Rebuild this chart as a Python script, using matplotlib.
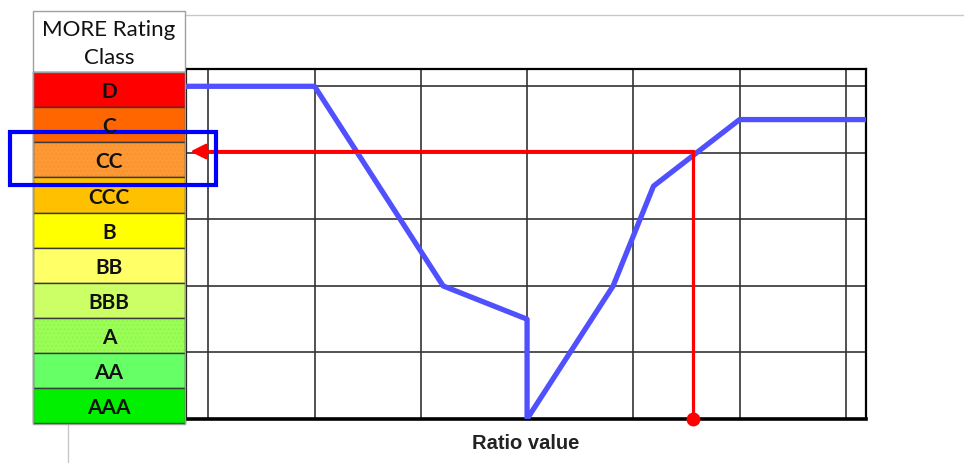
import matplotlib.pyplot as plt
from matplotlib.patches import Rectangle

# rating classes, top row first
classes = ['D', 'C', 'CC', 'CCC', 'B', 'BB', 'BBB', 'A', 'AA', 'AAA']
class_colors = ['#FF0000', '#FF6600', '#FF9933', '#FFC000', '#FFFF00',
                '#FFFF66', '#CCFF66', '#99FF55', '#66FF66', '#00F000']
dotted = ['CC', 'A']

# blue mapping curve: ratio value -> rating level
curve_x = [0.79, 2.0, 3.21, 4.0, 4.0, 4.81, 5.19, 6.0, 7.19]
curve_y = [5.0, 5.0, 2.0, 1.5, 0.0, 2.0, 3.5, 4.5, 4.5]

# example ratio and the level it reads off
ratio_x = 5.56
ratio_level = 4.02

W, H = 964, 464
fig = plt.figure(figsize=(W / 100, H / 100), dpi=100)

# background layer in pixel coordinates (page frame line)
bg = fig.add_axes([0, 0, 1, 1], zorder=0)
bg.set_xlim(0, W)
bg.set_ylim(H, 0)
bg.axis('off')
bg.plot([68, W], [16, 16], color='#C8C8C8', lw=1)
bg.plot([68, 68], [16, H], color='#C8C8C8', lw=1)

# chart
ax = fig.add_axes([186 / W, (H - 420) / H, 680 / W, 350 / H], zorder=1)
ax.set_xlim(0.79, 7.19)
ax.set_ylim(0, 5.26)
ax.set_xticks(range(1, 8))
ax.set_yticks(range(1, 6))
ax.tick_params(length=0, labelbottom=False, labelleft=False)
ax.grid(True, color='#333333', lw=1.2)
ax.set_axisbelow(True)
for s in ['top', 'right', 'left']:
    ax.spines[s].set_linewidth(1.6)
ax.spines['bottom'].set_linewidth(2.6)

ax.plot(curve_x, curve_y, color='#5050FF', lw=3.8, solid_joinstyle='round', zorder=3)

# red reading line and arrow
ax.plot([ratio_x, ratio_x], [0, ratio_level], color='#FF0000', lw=2.3, zorder=4)
ax.annotate('', xy=(0.83, ratio_level), xytext=(ratio_x + 0.01, ratio_level),
            arrowprops=dict(arrowstyle='-|>,head_length=0.9,head_width=0.45',
                            color='#FF0000', lw=2.3, shrinkA=0, shrinkB=0),
            zorder=4)
ax.plot([ratio_x], [0], 'o', color='#FF0000', ms=9, clip_on=False, zorder=5)

ax.set_xlabel('Ratio value', fontsize=14.5, fontweight='bold',
              family='Liberation Sans', color='#222222', labelpad=10)

# rating table and highlight box, in pixel coordinates
ov = fig.add_axes([0, 0, 1, 1], zorder=2)
ov.set_xlim(0, W)
ov.set_ylim(H, 0)
ov.axis('off')
ov.patch.set_alpha(0)

tx, tw = 33, 152
top, rh = 73, 35.15
ov.add_patch(Rectangle((tx, 12), tw, top - 12, facecolor='white',
                       edgecolor='#A0A0A0', lw=1))
ov.text(tx + tw / 2, 44, 'MORE Rating\nClass', ha='center', va='center',
        fontsize=16, family='Lato', linespacing=1.45, color='#111111')
for i, (c, col) in enumerate(zip(classes, class_colors)):
    y0 = top + i * rh
    ov.add_patch(Rectangle((tx, y0), tw, rh, facecolor=col,
                           edgecolor='#3A3A3A', lw=1))
    if c in dotted:
        ov.add_patch(Rectangle((tx, y0), tw, rh, facecolor='none',
                               edgecolor=(0.5, 0.3, 0.2, 0.07), lw=0, hatch='....'))
    ov.text(tx + tw / 2, y0 + rh / 2 + 1.5, c, ha='center', va='center',
            fontsize=15, family='Lato', fontweight='bold', color='#111111')
ov.add_patch(Rectangle((tx, top), tw, rh * len(classes), facecolor='none',
                       edgecolor='#A0A0A0', lw=1))

ov.add_patch(Rectangle((10, 133), 206, 53, facecolor='none',
                       edgecolor='#0000FF', lw=3))

fig.savefig('out.png', dpi=100)
